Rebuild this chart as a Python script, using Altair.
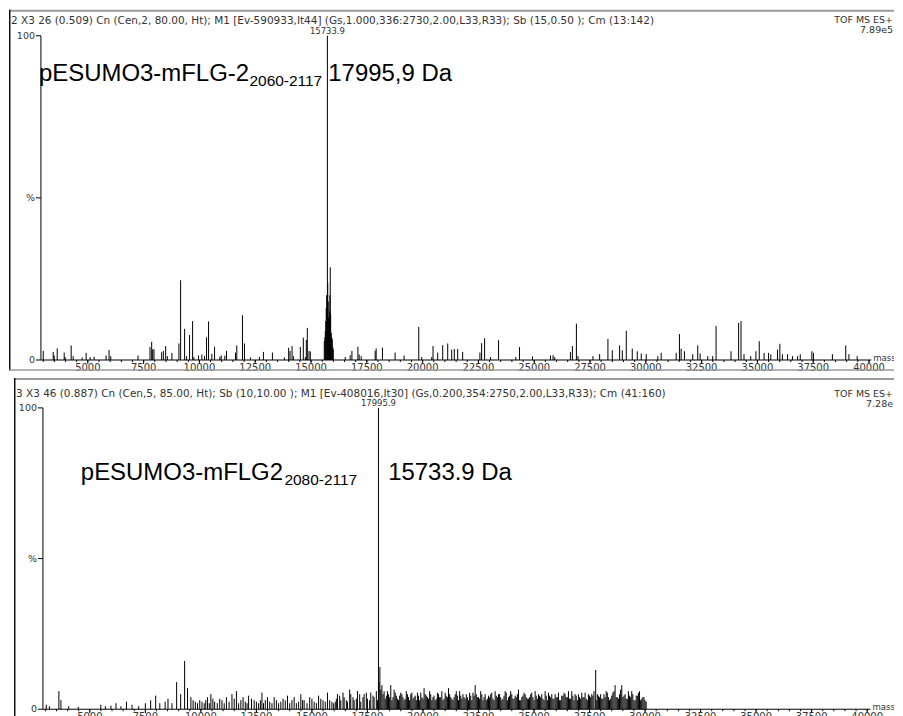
import altair as alt
import pandas as pd

# ---------------- data ----------------
# Top spectrum (mass, relative intensity %)
top_mass = [3002, 3449, 3494, 3628, 3941, 3985, 4254, 4343, 4745, 4924, 5103, 5282,
            5818, 5952, 6028, 7248, 7785, 7861, 7906, 7964, 8308, 8384, 8487, 8563,
            8768, 9081, 9157, 9336, 9425, 9559, 9694, 9752, 9962, 10109, 10230, 10319,
            10409, 10556, 10677, 10914, 10976, 11137, 11213, 11616, 11674, 11929, 12018,
            12286, 12688, 12867, 13270, 13806, 13998, 14060, 14150, 14208, 14521, 14655,
            14745, 14789, 14834, 14910, 14968,
            15594, 15620, 15639, 15660, 15680, 15700, 15733.9, 15750, 15770, 15790, 15810,
            15830, 15845, 15862, 15880, 15907, 15930, 15952, 15975, 15996,
            16533, 16756, 16832, 17100, 17158, 17248, 17874, 17918, 18200, 18768, 19170,
            19827, 19961, 20408, 20466, 20676, 20900, 21124, 21302, 21419, 21571, 21794,
            22567, 22643, 22777, 23045, 23403, 24176, 24342, 24923, 25728, 25845, 25921,
            26622, 26711, 26890, 26961,
            27632, 27931, 28303, 28498, 28826, 28946, 29125, 29393, 29617, 29796, 30019,
            30538, 30689, 31360, 31507, 31583, 31731, 32102, 32326, 32433, 32773, 32996,
            33148, 33818, 34158, 34265, 34400, 34700, 34933, 35083, 35300, 35499, 35600,
            35900, 36006, 36120, 36350, 36570, 36800, 36920, 37440, 37510, 38360, 38958,
            39100, 39470]
top_int = [2.8, 2.5, 1.4, 3.6, 2.3, 0.9, 4.5, 1.2, 0.8, 2.2, 0.9, 1.0,
           1.4, 3.1, 1.2, 1.4, 4.0, 5.6, 3.3, 3.3, 2.4, 2.8, 4.3, 1.2,
           2.2, 5.1, 24.6, 9.6, 1.2, 7.7, 12.0, 0.9, 1.4, 1.7, 1.2, 7.0,
           11.9, 1.9, 4.1, 1.0, 1.4, 1.3, 2.8, 2.3, 4.5, 13.8, 5.1,
           0.8, 0.9, 2.5, 2.3, 0.8, 3.8, 2.8, 4.3, 1.2, 4.0, 6.9,
           0.9, 6.2, 9.9, 2.8, 2.6,
           5.8, 7.0, 8.9, 12.0, 16.0, 20.0, 100.0, 23.8, 18.0, 13.0, 12.0,
           15.0, 20.0, 28.6, 14.0, 8.4, 7.0, 6.4, 4.0, 3.3,
           0.9, 1.5, 2.8, 4.1, 1.7, 1.2, 2.8, 3.6, 3.8, 2.3, 1.4,
           10.2, 0.9, 0.9, 4.3, 2.3, 4.6, 5.1, 3.2, 3.4, 3.4, 2.5,
           2.3, 5.2, 6.7, 0.9, 6.1, 0.9, 4.0, 1.1, 1.4, 1.5, 0.9,
           2.5, 4.3, 11.2, 1.2,
           1.2, 1.8, 6.5, 3.0, 4.5, 3.0, 9.0, 3.5, 2.7, 2.0, 1.8,
           1.2, 2.2, 2.2, 8.0, 3.5, 2.7, 1.8, 4.5, 2.0, 1.2, 1.2,
           10.5, 2.7, 11.4, 12.0, 1.8, 1.2, 2.7, 5.8, 2.2, 2.2, 1.8,
           3.2, 5.0, 1.8, 1.8, 1.2, 1.2, 1.8, 2.7, 2.2, 1.8, 4.5,
           1.8, 1.2]

# Bottom spectrum (mass, relative intensity %) - main peaks
bot_mass = [3040, 3180, 3607, 3700, 4050, 4480, 5494, 5700, 5950, 6180, 6400, 6650,
            6900, 7200, 7500, 7740, 7965, 8150, 8390, 8520, 8700, 8908, 9090, 9268,
            9400, 9550, 9750, 9950, 10150, 10300, 10450, 10620, 10850, 11050, 11150,
            11400, 11600, 11800, 12000, 12150, 12400, 12600, 12750, 12900, 13100, 13300,
            13500, 13700, 13900, 14100, 14300, 14500, 14650, 14900, 15100, 15300, 15500,
            15700, 15900, 16100, 16250, 16400, 16550, 16700, 16850, 17000, 17150, 17300,
            17450, 17600, 17750, 17900, 17995.9, 18060, 18150, 18250, 18350, 18450, 18550,
            18650, 18750, 18850, 18950, 19050, 19150, 19250, 19350, 19450, 19550, 19650,
            19750, 19850, 19950, 20050, 20150, 20250, 20350, 20450, 20550, 20650, 20750,
            20850, 20950, 21050, 21150, 21250, 21350, 21450, 21550, 21650, 21750, 21850,
            21950, 22050, 22150, 22250, 22350, 22450, 22550, 22650, 22750, 22850, 22950,
            23050, 23150, 23250, 23350, 23450, 23550, 23650, 23750, 23850, 23950, 24050,
            24150, 24250, 24350, 24450, 24550, 24650, 24750, 24850, 24950, 25050, 25150,
            25250, 25350, 25450, 25550, 25650, 25750, 25850, 25950, 26050, 26150, 26250,
            26350, 26450, 26550, 26650, 26750, 26850, 26950, 27050, 27150, 27250, 27350,
            27450, 27550, 27650, 27776, 27850, 27950, 28050, 28150, 28250, 28350, 28450,
            28550, 28650, 28750, 28850, 28950, 29050, 29150, 29250, 29350, 29450, 29550,
            29650, 29750, 29850, 29950, 30050]
bot_int = [1.5, 1.0, 6.0, 3.0, 1.0, 0.8, 1.5, 1.0, 1.2, 2.0, 1.0, 2.5,
           1.5, 1.0, 2.0, 3.0, 4.5, 2.0, 2.5, 3.5, 2.0, 9.0, 5.0, 16.0,
           7.0, 4.0, 2.5, 3.0, 2.0, 4.0, 5.0, 2.5, 3.5, 2.0, 4.0,
           5.0, 6.0, 3.0, 2.5, 4.5, 3.0, 2.0, 5.5, 3.0, 2.5, 4.0,
           2.0, 3.5, 4.5, 3.0, 2.0, 5.0, 3.0, 4.0, 2.5, 4.5, 3.0,
           5.5, 2.5, 3.5, 4.5, 5.5, 3.0, 6.5, 4.0, 3.5, 5.0, 4.0,
           5.5, 3.0, 4.5, 6.0, 100.0, 14.0, 8.0, 6.0, 4.5, 5.0, 8.0,
           4.0, 5.5, 3.5, 4.5, 5.0, 3.0, 6.0, 4.0, 5.0, 3.5, 4.5,
           5.5, 3.0, 4.0, 7.0, 4.5, 3.5, 5.0, 4.0, 3.0, 5.5, 4.0,
           6.0, 3.5, 4.5, 7.0, 4.0, 3.0, 5.0, 4.5, 6.0, 3.5, 4.0,
           5.0, 3.0, 4.5, 5.5, 8.0, 4.0, 3.5, 5.0, 4.0, 3.0, 4.5,
           5.0, 3.5, 6.0, 4.0, 5.0, 3.0, 4.5, 5.5, 4.0, 6.0, 3.5,
           4.5, 5.0, 3.0, 4.0, 5.5, 4.0, 3.5, 5.0, 4.0, 6.0, 3.5,
           4.5, 5.0, 3.0, 4.5, 5.5, 4.0, 3.5, 5.0, 4.0, 3.0, 4.5,
           5.5, 4.0, 6.0, 3.5, 4.5, 5.0, 3.0, 4.0, 5.5, 4.0, 3.5,
           5.0, 4.0, 4.5, 13.0, 5.0, 4.0, 3.5, 5.0, 6.0, 4.0, 3.5,
           5.5, 8.0, 4.0, 5.0, 8.0, 4.5, 3.5, 6.0, 4.0, 5.0, 3.0,
           4.5, 6.0, 3.5, 4.0, 2.5]

# Bottom spectrum - additional dense minor peaks
bot_mass_b = [9650, 9850, 10050, 10220, 10380, 10540, 10740, 10950, 11270, 11500, 11700,
              11900, 12080, 12280, 12500, 12680, 12820, 13000, 13200, 13400, 13600, 13800,
              14000, 14200, 14400, 14580, 14780, 15000, 15200, 15400, 15600, 15800, 15980,
              16050, 16150, 16300, 16450, 16600, 16750, 16900, 17050, 17200, 17350, 17500,
              17650, 17800, 17950, 18020, 18100, 18200, 18300, 18400, 18500, 18600, 18700,
              18800, 18900, 19000, 19100, 19200, 19300, 19400, 19500, 19600, 19700, 19800,
              19900, 20000, 20100, 20200, 20300, 20400, 20500, 20600, 20700, 20800, 20900,
              21000, 21100, 21200, 21300, 21400, 21500, 21600, 21700, 21800, 21900, 22000,
              22100, 22200, 22300, 22400, 22500, 22600, 22700, 22800, 22900, 23000, 23100,
              23200, 23300, 23400, 23500, 23600, 23700, 23800, 23900, 24000, 24100, 24200,
              24300, 24400, 24500, 24600, 24700, 24800, 24900, 25000, 25100, 25200, 25300,
              25400, 25500, 25600, 25700, 25800, 25900, 26000, 26100, 26200, 26300, 26400,
              26500, 26600, 26700, 26800, 26900, 27000, 27100, 27200, 27300, 27400, 27500,
              27600, 27700, 27800, 27900, 28000, 28100, 28200, 28300, 28400, 28500, 28600,
              28700, 28800, 28900, 29000, 29100, 29200, 29300, 29400, 29500, 29600, 29700,
              29800, 29900, 30000]
bot_int_b = [3.0, 2.0, 2.5, 3.0, 2.0, 3.5, 2.0, 3.0, 2.5, 3.5, 2.0,
             4.0, 2.0, 3.5, 2.5, 3.0, 2.0, 4.0, 2.0, 3.0, 2.5, 3.0,
             2.0, 4.0, 2.5, 3.0, 2.0, 3.5, 2.0, 3.5, 2.5, 3.0, 2.0,
             2.5, 5.0, 3.0, 4.0, 2.5, 5.0, 3.0, 6.0, 2.5, 5.0, 3.5,
             5.5, 4.0, 3.0, 9.0, 6.5, 5.0, 3.5, 6.0, 4.0, 3.0, 6.5,
             4.5, 3.0, 5.5, 4.0, 3.5, 5.0, 3.0, 5.5, 4.0, 3.0, 4.5,
             5.5, 3.5, 5.0, 4.0, 6.0, 3.0, 4.5, 3.5, 5.0, 4.0, 3.0,
             5.5, 4.0, 5.0, 3.5, 4.0, 6.0, 3.0, 4.5, 5.0, 3.5, 4.0,
             5.5, 3.0, 4.5, 5.0, 4.0, 6.0, 3.0, 5.0, 3.5, 4.0, 5.5,
             3.0, 4.5, 5.0, 4.0, 3.5, 6.0, 3.0, 4.5, 5.0, 3.5, 4.0,
             6.5, 3.0, 4.5, 5.0, 3.5, 4.0, 5.5, 3.0, 4.5, 5.0, 4.0,
             3.5, 6.0, 3.0, 4.5, 5.0, 3.5, 4.0, 5.5, 3.0, 4.5, 5.0,
             4.0, 3.5, 6.0, 3.0, 4.5, 5.0, 3.5, 4.0, 5.5, 3.0, 4.5,
             5.0, 6.0, 3.0, 4.5, 5.0, 3.5, 4.0, 5.5, 3.0, 4.5, 6.0,
             4.0, 3.5, 6.5, 4.0, 5.0, 3.5, 4.5, 6.0, 3.0, 4.5, 5.5,
             3.0, 4.0, 3.0]

x_major = [5000, 7500, 10000, 12500, 15000, 17500, 20000, 22500, 25000,
           27500, 30000, 32500, 35000, 37500, 40000]
x_major_labels = [str(v) for v in x_major]
x_minor = list(range(3000, 40001, 500))
y_ticks = [0, 50, 100]
y_tick_labels = ["0", "%", "100"]

top_header = ("2 X3  26 (0.509) Cn (Cen,2, 80.00, Ht); M1 [Ev-590933,It44] "
              "(Gs,1.000,336:2730,2.00,L33,R33); Sb (15,0.50 ); Cm (13:142)")
bot_header = ("3 X3  46 (0.887) Cn (Cen,5, 85.00, Ht); Sb (10,10.00 ); "
              "M1 [Ev-408016,It30] (Gs,0.200,354:2750,2.00,L33,R33); Cm (41:160)")

BIG = "Liberation Sans"
SMALL = "DejaVu Sans"
W = 887
ONE = alt.Data(values=[{}])


def panel(mass, inten, H, xdom, ydom, ax_x0, ax_x1, header, header_y, tof_lines,
          peak_mass, peak_text, peak_dy, ann_main, ann_sub, ann_val, ann_x, ann_sub_x,
          ann_val_x, ann_y, border_x, bottom_border):
    xs = alt.Scale(domain=xdom, nice=False, zero=False)
    ys = alt.Scale(domain=ydom, nice=False, zero=False)

    def XD(v):
        return alt.X(datum=v, type="quantitative", scale=xs, axis=None)

    def YD(v):
        return alt.Y(datum=v, type="quantitative", scale=ys, axis=None)

    peaks = alt.Chart(pd.DataFrame({"m": mass, "i": inten})).mark_rule(
        color="black", strokeWidth=1, clip=True).encode(
        x=alt.X("m:Q", scale=xs, axis=None),
        y=alt.Y("i:Q", scale=ys, axis=None),
        y2=alt.Y2(datum=0))

    xaxis = alt.Chart(ONE).mark_rule(color="black", strokeWidth=1).encode(
        x=XD(ax_x0), x2=alt.X2(datum=ax_x1), y=YD(0))
    yaxis = alt.Chart(ONE).mark_rule(color="black", strokeWidth=1).encode(
        x=XD(ax_x0), y=YD(0), y2=alt.Y2(datum=100))

    ydf = pd.DataFrame({"i": y_ticks, "lab": y_tick_labels})
    yt = alt.Chart(ydf).mark_rule(color="black", strokeWidth=1, x2Offset=-5).encode(
        x=XD(ax_x0), x2=alt.X2(datum=ax_x0), y=alt.Y("i:Q", scale=ys, axis=None))
    ylab = alt.Chart(ydf).mark_text(align="right", baseline="middle", dx=-6,
                                    fontSize=9.5, font=SMALL, color="#333").encode(
        x=XD(ax_x0), y=alt.Y("i:Q", scale=ys, axis=None), text="lab:N")

    xmaj = pd.DataFrame({"t": x_major, "lab": x_major_labels})
    xt = alt.Chart(xmaj).mark_rule(color="black", strokeWidth=1, y2Offset=4).encode(
        x=alt.X("t:Q", scale=xs, axis=None), y=YD(0), y2=alt.Y2(datum=0))
    xmin = alt.Chart(pd.DataFrame({"t": x_minor})).mark_rule(
        color="black", strokeWidth=1, y2Offset=2).encode(
        x=alt.X("t:Q", scale=xs, axis=None), y=YD(0), y2=alt.Y2(datum=0))
    xlab = alt.Chart(xmaj).mark_text(baseline="top", dy=3, fontSize=10, font=SMALL,
                                     color="#333", clip=True).encode(
        x=alt.X("t:Q", scale=xs, axis=None), y=YD(0), text="lab:N")
    masslab = alt.Chart(ONE).mark_text(align="left", baseline="middle", dx=2, dy=-2,
                                       fontSize=8.6, font=SMALL, color="#333",
                                       clip=True).encode(
        x=XD(ax_x1), y=YD(0), text=alt.value("mass"))

    plab = alt.Chart(ONE).mark_text(baseline="bottom", dy=peak_dy, fontSize=8.5,
                                    font=SMALL, color="#333").encode(
        x=XD(peak_mass), y=YD(100), text=alt.value(peak_text))

    hdr = alt.Chart(ONE).mark_text(align="left", baseline="alphabetic", fontSize=10.5,
                                   font=SMALL, color="#333").encode(
        x=alt.value(border_x + 2), y=alt.value(header_y), text=alt.value(header))
    tof = [alt.Chart(ONE).mark_text(align="right", baseline="alphabetic", fontSize=9.5,
                                    font=SMALL, color="#333").encode(
        x=alt.value(W - 1), y=alt.value(ty), text=alt.value(tt)) for tt, ty in tof_lines]

    a1 = alt.Chart(ONE).mark_text(align="left", baseline="alphabetic", fontSize=24,
                                  font=BIG, color="black").encode(
        x=alt.value(ann_x), y=alt.value(ann_y), text=alt.value(ann_main))
    a2 = alt.Chart(ONE).mark_text(align="left", baseline="alphabetic", fontSize=15.5,
                                  font=BIG, color="black").encode(
        x=alt.value(ann_sub_x), y=alt.value(ann_y + 5), text=alt.value(ann_sub))
    a3 = alt.Chart(ONE).mark_text(align="left", baseline="alphabetic", fontSize=24,
                                  font=BIG, color="black").encode(
        x=alt.value(ann_val_x), y=alt.value(ann_y), text=alt.value(ann_val))

    topline = alt.Chart(ONE).mark_rule(color="#9a9a9a", strokeWidth=2).encode(
        x=alt.value(border_x), x2=alt.value(W), y=alt.value(1))
    leftline = alt.Chart(ONE).mark_rule(color="#111", strokeWidth=1.5).encode(
        x=alt.value(border_x + 0.75), y=alt.value(0), y2=alt.value(H))
    layers = [peaks, xmin, xt, xaxis, yaxis, yt, ylab, xlab, masslab, plab, hdr] + tof + \
             [a1, a2, a3, topline, leftline]
    if bottom_border:
        layers.append(alt.Chart(ONE).mark_rule(color="#9a9a9a", strokeWidth=1.5).encode(
            x=alt.value(border_x), x2=alt.value(W), y=alt.value(H - 1)))
    return alt.layer(*layers).properties(width=W, height=H)


top = panel(top_mass, top_int, 362, [1468, 41120], [-3.385, 108.0], 2899, 40100,
            top_header, 14, [("TOF MS ES+", 13.5), ("7.89e5", 23.5)],
            15733.9, "15733.9", 0,
            "pESUMO3-mFLG-2", "2060-2117", "17995,9 Da", 30, 241, 320, 71, 0, True)

bottom = panel(bot_mass + bot_mass_b, bot_int + bot_int_b, 341, [1361, 41208],
               [-2.98, 109.93], 2889, 40150,
               bot_header, 19, [("TOF MS ES+", 19), ("7.28e", 29)],
               17995.9, "17995.9", 0,
               "pESUMO3-mFLG2", "2080-2117", "15733.9 Da", 72, 276, 380, 102, 5, False)

chart = alt.vconcat(top, bottom, spacing=5).properties(padding=0).configure(
    font=BIG, view=alt.ViewConfig(stroke=None))

chart.save("out.html", embed_options={"renderer": "svg", "actions": False})
